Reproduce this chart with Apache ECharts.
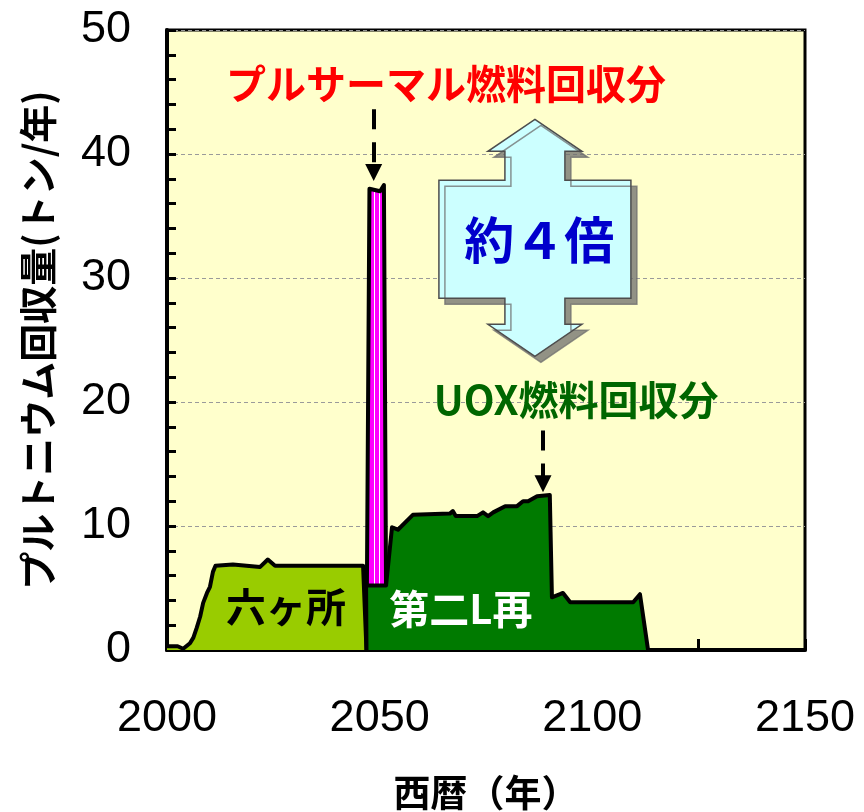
<!DOCTYPE html>
<html>
<head>
<meta charset="utf-8">
<script src="https://cdn.jsdelivr.net/npm/echarts@6/dist/echarts.min.js"></script>
<style>
html, body { margin: 0; padding: 0; background: #fff; }
#chart { width: 864px; height: 812px; }
</style>
</head>
<body>
<div id="chart"></div>
<script>
// Plutonium recovery (t/yr) by plant, per year
const rokkashoYears  = [2000, 2002.5, 2003.8, 2005.4, 2006.2, 2007.0, 2007.8, 2008.5, 2009.4, 2010.1, 2010.8, 2011.4, 2015.5, 2021.9, 2023.7, 2025.4, 2046.1, 2046.9];
const rokkashoValues = [0.3, 0.3, 0.1, 0.55, 1.0, 1.8, 2.7, 3.8, 4.6, 5.1, 6.3, 6.8, 6.9, 6.7, 7.3, 6.8, 6.8, 0];

const secondPlantYears  = [2046.9, 2046.8, 2051.5, 2052.9, 2054.3, 2057.8, 2066.5, 2067.2, 2067.9, 2072.9, 2074.3, 2075.5, 2076.7, 2079.5, 2082.3, 2083.7, 2084.9, 2087.0, 2090.0, 2090.5, 2092.4, 2093.1, 2094.8, 2109.6, 2111.2, 2113.1];
const secondPlantValues = [0, 5.2, 5.2, 9.9, 9.7, 10.9, 11.0, 11.2, 10.8, 10.8, 11.1, 10.8, 11.1, 11.6, 11.6, 12.0, 12.0, 12.4, 12.5, 4.25, 4.5, 4.6, 3.85, 3.85, 4.5, 0];

const pluthermalYears  = [2047.0, 2047.0, 2047.6, 2050.1, 2051.0, 2051.5, 2051.6];
const pluthermalValues = [0, 5.2, 37.2, 37.0, 37.5, 5.2, 0];

const xTickLabels = ['2000', '2050', '2100', '2150'];
const yTickLabels = ['0', '10', '20', '30', '40', '50'];

const zip = (xs, ys) => xs.map((x, i) => [x, ys[i]]);

const JP = '"Noto Sans CJK JP", "Noto Sans CJK SC", sans-serif';
const NUM = '"Liberation Sans Narrow", "Liberation Sans", Arial, sans-serif';

const outline = { color: '#000', width: 4, join: 'round' };

const chart = echarts.init(document.getElementById('chart'), null, { renderer: 'canvas' });

chart.setOption({
  animation: false,
  backgroundColor: '#ffffff',
  grid: {
    left: 167, right: 59, top: 30, bottom: 162,
    outerBoundsMode: 'none', containLabel: false,
    show: true, backgroundColor: '#FFFFCC', borderColor: '#000', borderWidth: 3
  },
  xAxis: {
    type: 'value', min: 2000, max: 2150, interval: 50,
    name: '西暦（年）', nameLocation: 'middle', nameGap: 124,
    nameTextStyle: { fontFamily: JP, fontSize: 37, fontWeight: 'bold', color: '#000' },
    axisLine: { lineStyle: { color: '#000', width: 4 } },
    axisTick: { inside: true, length: 11, lineStyle: { color: '#000', width: 3 } },
    minorTick: { show: true, splitNumber: 2, length: 11, lineStyle: { color: '#000', width: 3 } },
    axisLabel: {
      margin: 46, fontFamily: NUM, fontSize: 45, color: '#000',
      formatter: v => xTickLabels.includes(String(v)) ? String(v) : ''
    },
    splitLine: { show: false }
  },
  yAxis: {
    type: 'value', min: 0, max: 50, interval: 10,
    name: 'プルトニウム回収量(トン/年)', nameLocation: 'middle', nameGap: 110, nameRotate: 90,
    nameTextStyle: { fontFamily: JP, fontSize: 38, fontWeight: 'bold', color: '#000' },
    axisLine: { lineStyle: { color: '#000', width: 4 } },
    axisTick: { inside: true, length: 9, lineStyle: { color: '#000', width: 3 } },
    minorTick: { show: true, splitNumber: 5, length: 9, lineStyle: { color: '#000', width: 3 } },
    axisLabel: {
      margin: 36, fontFamily: NUM, fontSize: 45, color: '#000',
      formatter: v => yTickLabels.includes(String(v)) ? String(v) : ''
    },
    splitLine: { show: true, lineStyle: { color: '#9a9a9a', width: 1, type: [4, 3] } }
  },
  series: [
    {
      name: 'プルサーマル燃料回収分', type: 'line', z: 2, data: zip(pluthermalYears, pluthermalValues),
      showSymbol: false, silent: true, lineStyle: outline,
      areaStyle: {
        opacity: 1,
        color: new echarts.graphic.LinearGradient(0, 0, 1, 0, [
          { offset: 0, color: '#FF00FF' }, { offset: 0.35, color: '#FF00FF' },
          { offset: 0.35, color: '#FFFFFF' }, { offset: 0.42, color: '#FFFFFF' },
          { offset: 0.42, color: '#FF00FF' }, { offset: 0.6, color: '#FF00FF' },
          { offset: 0.6, color: '#FFFFFF' }, { offset: 0.67, color: '#FFFFFF' },
          { offset: 0.67, color: '#FF00FF' }, { offset: 1, color: '#FF00FF' }
        ])
      },
      markLine: {
        silent: true, symbol: ['none', 'triangle'], symbolSize: [17, 17],
        label: { show: false },
        lineStyle: { color: '#000', width: 4, type: [20, 13] },
        data: [
          [{ coord: [2048.6, 43.6] }, { coord: [2048.6, 38.5] }],
          [{ coord: [2088.4, 17.7] }, { coord: [2088.4, 13.4] }]
        ]
      }
    },
    {
      name: '六ヶ所', type: 'line', z: 3, data: zip(rokkashoYears, rokkashoValues),
      showSymbol: false, silent: true, lineStyle: outline,
      areaStyle: { opacity: 1, color: '#99CC00' }
    },
    {
      name: '第二L再', type: 'line', z: 4, data: zip(secondPlantYears, secondPlantValues),
      showSymbol: false, silent: true, lineStyle: outline,
      areaStyle: { opacity: 1, color: '#007A00' }
    }
  ]
});

// Annotations anchored in data coordinates
const px = (x, y) => chart.convertToPixel({ gridIndex: 0 }, [x, y]);

function label(x, y, text, size, color, weight) {
  const p = px(x, y);
  return {
    type: 'text', x: p[0], y: p[1], z: 100, silent: true,
    style: {
      text, fontSize: size, fontWeight: weight || 'bold', fontFamily: JP,
      fill: color, align: 'center', verticalAlign: 'middle'
    }
  };
}

// Double-headed arrow comparing the two recovery peaks
const arrowCenter = px(2086.5, 33.2);
const arrowShape = [
  [0, -119], [47, -87], [30, -87], [30, -58], [96, -58], [96, 60], [30, 60], [30, 86],
  [47, 86], [0, 118], [-47, 86], [-30, 86], [-30, 60], [-96, 60], [-96, -58], [-30, -58],
  [-30, -87], [-47, -87]
];

chart.setOption({
  graphic: [
    {
      type: 'polygon', x: arrowCenter[0], y: arrowCenter[1], z: 90, silent: true,
      shape: { points: arrowShape },
      style: {
        fill: '#CCFFFF', stroke: '#4d4d4d', lineWidth: 1.5,
        shadowColor: 'rgba(110,110,110,0.75)', shadowOffsetX: 6, shadowOffsetY: 6, shadowBlur: 0
      }
    },
    label(2087.5, 33.1, '約４倍', 50, '#0000CC'),
    label(2065.6, 45.7, 'プルサーマル燃料回収分', 40, '#FF0000'),
    label(2096.2, 20.2, 'UOX燃料回収分', 40, '#006600'),
    label(2028.0, 3.45, '六ヶ所', 40, '#000000'),
    label(2069.1, 3.3, '第二L再', 40, '#FFFFFF')
  ]
});
</script>
</body>
</html>
